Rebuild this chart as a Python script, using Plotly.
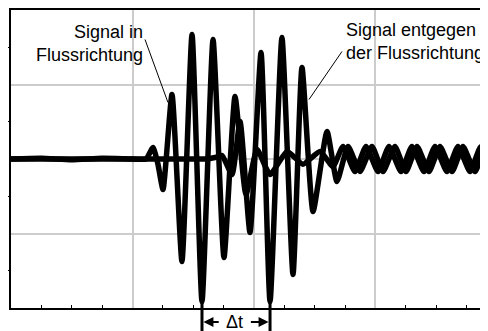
import plotly.graph_objects as go

# time axis (arbitrary units, grid every 1 unit), amplitude (grid every 1 unit)
t_down = [0.0, 0.25, 0.5, 0.75, 1.0, 1.111, 1.169, 1.210, 1.251, 1.325, 1.407, 1.490, 1.572,
          1.663, 1.753, 1.844, 1.934, 2.025, 2.132, 2.272, 2.403, 2.543, 2.650,
          2.733, 2.831, 2.922, 3.021, 3.111, 3.210, 3.300, 3.399, 3.490, 3.588,
          3.679, 3.778, 3.868, 3.967]
a_down = [0.0, 0.01, -0.01, 0.01, 0.0, 0.0, 0.154, -0.074, -0.409, 0.866, -1.376, 1.671, -1.913,
          1.604, -1.322, 0.839, -0.477, 0.128, -0.208, 0.101, -0.07, 0.101, -0.101,
          0.168, -0.168, 0.168, -0.168, 0.168, -0.168, 0.168, -0.168, 0.168, -0.168,
          0.168, -0.168, 0.168, -0.168]

t_up = [0.0, 0.5, 1.0, 1.5, 1.597, 1.679, 1.737, 1.819, 1.885, 1.967, 2.058, 2.132, 2.230,
        2.321, 2.395, 2.486, 2.601, 2.683, 2.774, 2.872, 2.971, 3.062, 3.160,
        3.251, 3.342, 3.440, 3.531, 3.630, 3.720, 3.819, 3.909, 4.008]
a_up = [0.0, 0.0, 0.0, 0.0, 0.0, 0.02, 0.047, -0.208, 0.503, -0.987, 1.43, -1.913, 1.631,
        -1.55, 1.228, -0.705, 0.369, -0.302, 0.168, -0.168, 0.168, -0.168, 0.168,
        -0.168, 0.168, -0.168, 0.168, -0.168, 0.168, -0.168, 0.168, -0.168]

label_down = "Signal in<br>Flussrichtung"
label_up = "Signal entgegen<br>der Flussrichtung"
dt_label = "Δt"
dt_start, dt_end = 1.572, 2.132

FONT = "Liberation Sans, Arial, sans-serif"

fig = go.Figure()
for tx, ay in ((t_down, a_down), (t_up, a_up)):
    fig.add_trace(go.Scatter(x=tx, y=ay, mode="lines",
                             line=dict(color="black", width=5.5, shape="spline", smoothing=0.5),
                             showlegend=False))

fig.update_layout(
    width=480, height=323,
    margin=dict(l=3, r=0, t=2, b=23),
    paper_bgcolor="white", plot_bgcolor="white",
    font=dict(family=FONT, size=18, color="black"),
    xaxis=dict(range=[0, 3.926], showgrid=True, gridcolor="#cccccc", gridwidth=1.5,
               dtick=1, tick0=0, zeroline=False, showticklabels=False, ticks="",
               showline=True, linecolor="black", linewidth=2, mirror=True,
               minor=dict(dtick=0.25, ticks="inside", ticklen=3, tickcolor="black",
                          showgrid=False)),
    yaxis=dict(range=[-2, 2], showgrid=True, gridcolor="#cccccc", gridwidth=1.5,
               dtick=1, tick0=0, zeroline=False, showticklabels=False, ticks="",
               showline=True, linecolor="black", linewidth=2, mirror=False,
               minor=dict(dtick=0.5, ticks="outside", ticklen=3, tickcolor="black",
                          showgrid=False)),
)

# leader lines
fig.add_shape(type="line", xref="x", yref="y", x0=1.103, y0=1.604, x1=1.292, y1=0.758,
              line=dict(color="black", width=1))
fig.add_shape(type="line", xref="x", yref="y", x0=2.724, y0=1.443, x1=2.453, y1=0.799,
              line=dict(color="black", width=1))

# labels
fig.add_annotation(x=1.10, y=1.55, xref="x", yref="y", text=label_down, showarrow=False,
                   xanchor="right", yanchor="middle", align="right",
                   font=dict(size=18, family=FONT))
fig.add_annotation(x=2.74, y=1.58, xref="x", yref="y", text=label_up, showarrow=False,
                   xanchor="left", yanchor="middle", align="left",
                   font=dict(size=18, family=FONT))

# delta t markers
for xv in (dt_start, dt_end):
    fig.add_shape(type="line", xref="x", yref="paper", x0=xv, x1=xv, y0=0.03, y1=-0.08,
                  line=dict(color="black", width=3))

fig.add_annotation(x=dt_start + 0.012, y=-0.047, xref="x", yref="paper", text="",
                   showarrow=True, arrowhead=2, arrowsize=1, arrowwidth=2,
                   axref="x", ax=dt_start + 0.15, ayref="pixel", ay=0, arrowcolor="black")
fig.add_annotation(x=dt_end - 0.012, y=-0.047, xref="x", yref="paper", text="",
                   showarrow=True, arrowhead=2, arrowsize=1, arrowwidth=2,
                   axref="x", ax=dt_end - 0.17, ayref="pixel", ay=0, arrowcolor="black")
fig.add_annotation(x=(dt_start + dt_end) / 2 - 0.01, y=-0.047, xref="x", yref="paper",
                   text=dt_label, showarrow=False, xanchor="center", yanchor="middle",
                   font=dict(size=18, family=FONT))

fig.write_html("out.html")
